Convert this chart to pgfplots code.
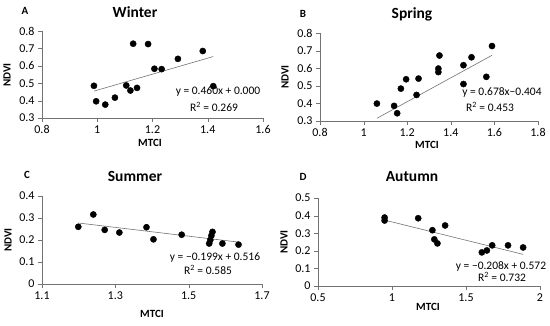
\documentclass[border=0pt]{standalone}
\usepackage{fontspec}
\setmainfont{Carlito}
\usepackage{pgfplots}
\pgfplotsset{compat=1.18}
\pgfplotsset{
  panel/.style={
    scale only axis, anchor=south west, clip=false,
    axis x line*=bottom, axis y line*=left,
    axis line style={draw=black!55,-},
    tick style={draw=black!55},
    tick align=outside, major tick length=4pt,
    ticklabel style={font=\fontsize{12}{14}\selectfont},
    /pgf/number format/assume math mode=true,
    /pgf/number format/fixed,
  },
  pts/.style={only marks, mark=*, mark size=3.1pt, black},
  fit/.style={no marks, draw=black!55, line width=0.6pt},
}
\begin{document}
\begin{tikzpicture}[x=1pt,y=1pt]
\path[use as bounding box] (0pt,0pt) rectangle (550pt,325pt);
\tikzset{lab/.style={font=\bfseries\fontsize{11}{13}\selectfont},
  ttl/.style={font=\bfseries\fontsize{15.5}{18}\selectfont},
  eq/.style={font=\fontsize{11.5}{13}\selectfont}}

% A Winter
\begin{axis}[panel, at={(42pt,207pt)}, width=221pt, height=87pt,
  xmin=0.8, xmax=1.6, ymin=0.3, ymax=0.8,
  xtick={0.8,1,1.2,1.4,1.6}, ytick={0.3,0.4,0.5,0.6,0.7,0.8}]
\addplot[pts] coordinates {(0.988,0.485) (0.996,0.396) (1.029,0.377) (1.064,0.417)
  (1.105,0.487) (1.120,0.458) (1.144,0.473) (1.130,0.727) (1.184,0.725)
  (1.207,0.583) (1.233,0.581) (1.292,0.640) (1.382,0.685) (1.420,0.483)};
\addplot[fit] coordinates {(0.988,0.4545) (1.420,0.6532)};
\end{axis}

% B Spring
\begin{axis}[panel, at={(320pt,204pt)}, width=218pt, height=88pt,
  xmin=0.8, xmax=1.8, ymin=0.3, ymax=0.8,
  xtick={0.8,1,1.2,1.4,1.6,1.8}, ytick={0.3,0.4,0.5,0.6,0.7,0.8}]
\addplot[pts] coordinates {(1.061,0.399) (1.140,0.386) (1.154,0.344) (1.171,0.484)
  (1.195,0.537) (1.243,0.448) (1.252,0.541) (1.348,0.672) (1.343,0.598)
  (1.343,0.578) (1.458,0.617) (1.458,0.510) (1.495,0.662) (1.563,0.551) (1.589,0.726)};
\addplot[fit] coordinates {(1.061,0.3154) (1.589,0.6733)};
\end{axis}

% C Summer
\begin{axis}[panel, at={(42pt,41pt)}, width=220pt, height=88pt,
  xmin=1.1, xmax=1.7, ymin=0, ymax=0.4,
  xtick={1.1,1.3,1.5,1.7}, ytick={0,0.1,0.2,0.3,0.4}]
\addplot[pts] coordinates {(1.199,0.260) (1.240,0.316) (1.271,0.246) (1.311,0.234)
  (1.385,0.258) (1.404,0.203) (1.481,0.224) (1.556,0.184) (1.559,0.200)
  (1.562,0.220) (1.565,0.237) (1.592,0.184) (1.636,0.179)};
\addplot[fit] coordinates {(1.199,0.2774) (1.636,0.1904)};
\end{axis}

% D Autumn
\begin{axis}[panel, at={(318pt,39pt)}, width=222pt, height=88pt,
  xmin=0.5, xmax=2, ymin=0, ymax=0.5,
  xtick={0.5,1,1.5,2}, ytick={0,0.1,0.2,0.3,0.4,0.5}]
\addplot[pts] coordinates {(0.950,0.389) (0.950,0.372) (1.177,0.385) (1.273,0.317)
  (1.286,0.265) (1.307,0.242) (1.359,0.344) (1.607,0.191) (1.641,0.202)
  (1.677,0.231) (1.784,0.231) (1.886,0.219)};
\addplot[fit] coordinates {(0.950,0.3744) (1.886,0.1797)};
\end{axis}

% panel letters and titles
\node[lab] at (25pt,314pt) {A};
\node[ttl] at (135pt,313pt) {Winter};
\node[lab] at (303pt,311pt) {B};
\node[ttl] at (412pt,311pt) {Spring};
\node[lab] at (27pt,150pt) {C};
\node[ttl] at (135pt,149pt) {Summer};
\node[lab] at (303pt,148pt) {D};
\node[ttl] at (412pt,148pt) {Autumn};

% axis labels
\node[lab] at (150pt,182pt) {MTCI};
\node[lab] at (427pt,180pt) {MTCI};
\node[lab] at (152pt,11pt) {MTCI};
\node[lab] at (428pt,18pt) {MTCI};
\node[lab,rotate=90] at (7pt,250pt) {NDVI};
\node[lab,rotate=90] at (285pt,248pt) {NDVI};
\node[lab,rotate=90] at (8pt,85pt) {NDVI};
\node[lab,rotate=90] at (284pt,83pt) {NDVI};

% fit equations
\node[eq] at (218pt,233pt) {y = 0.460x + 0.000};
\node[eq] at (214pt,218pt) {R\textsuperscript{2} = 0.269};
\node[eq] at (502pt,233pt) {y = 0.678x\textminus0.404};
\node[eq] at (490pt,218pt) {R\textsuperscript{2} = 0.453};
\node[eq] at (215pt,67pt) {y = \textminus0.199x + 0.516};
\node[eq] at (208pt,55pt) {R\textsuperscript{2} = 0.585};
\node[eq] at (501pt,59pt) {y = \textminus0.208x + 0.572};
\node[eq] at (502pt,48pt) {R\textsuperscript{2} = 0.732};
\end{tikzpicture}
\end{document}
